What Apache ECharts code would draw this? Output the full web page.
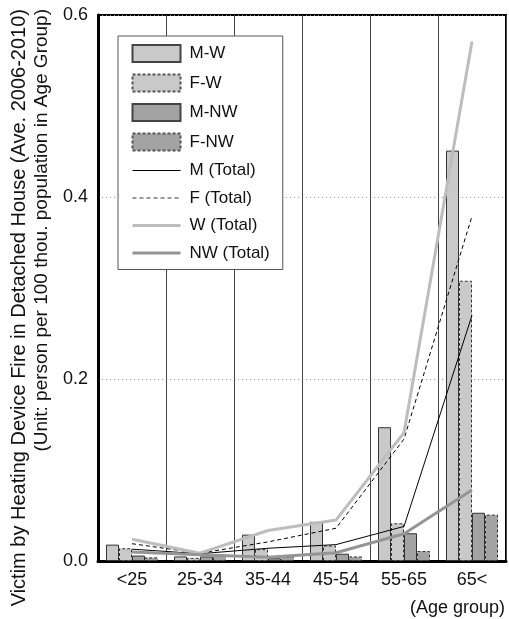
<!DOCTYPE html>
<html>
<head>
<meta charset="utf-8">
<script src="https://cdn.jsdelivr.net/npm/echarts@6/dist/echarts.min.js"></script>
<style>html,body{margin:0;padding:0;background:#fff;}#c{width:509px;height:619px;}</style>
</head>
<body>
<div id="c"></div>
<script>
var categories = ['<25', '25-34', '35-44', '45-54', '55-65', '65<'];
var mW = [0.018, 0.005, 0.029, 0.043, 0.147, 0.451];
var fW = [0.014, 0.0035, 0.013, 0.017, 0.0415, 0.308];
var mNW = [0.006, 0.005, 0.003, 0.008, 0.0305, 0.053];
var fNW = [0.004, 0.006, 0.005, 0.005, 0.011, 0.051];
var mTotal = [0.013, 0.008, 0.014, 0.018, 0.038, 0.27];
var fTotal = [0.019, 0.0085, 0.021, 0.036, 0.134, 0.379];
var wTotal = [0.024, 0.0086, 0.0335, 0.045, 0.141, 0.571];
var nwTotal = [0.010, 0.007, 0.004, 0.009, 0.030, 0.078];
var yTicks = [0, 0.2, 0.4, 0.6];

var FONT = 'Liberation Sans, Arial, sans-serif';
var DASH_BAR = [3, 2];
var DASH_LINE = [4, 3];
var chart = echarts.init(document.getElementById('c'));

function bar(name, data, color, dashed) {
  return {
    name: name, type: 'bar', data: data, barWidth: 13, barGap: '0%',
    itemStyle: { color: color, borderColor: '#333', borderWidth: 1, borderType: dashed ? DASH_BAR : 'solid' },
    emphasis: { disabled: true }, z: 2
  };
}
function line(name, data, color, width, dashed) {
  return {
    name: name, type: 'line', data: data, symbol: 'none', showSymbol: false,
    lineStyle: { color: color, width: width, type: dashed ? DASH_LINE : 'solid' },
    itemStyle: { color: color },
    emphasis: { disabled: true }, z: 5
  };
}

chart.setOption({
  animation: false,
  backgroundColor: '#fff',
  grid: { left: 98, right: 3, top: 15, bottom: 58, show: true, borderColor: '#000', borderWidth: 2, containLabel: false },
  legend: {
    orient: 'vertical', left: 118, top: 36,
    itemWidth: 48, itemHeight: 17, itemGap: 10.5,
    padding: [8, 13, 8, 13],
    backgroundColor: '#fff', borderColor: '#555', borderWidth: 1, borderRadius: 0,
    textStyle: { fontFamily: FONT, fontSize: 17, color: '#111', padding: [0, 0, 0, 4] },
    data: [
      { name: 'M-W', icon: 'rect', itemStyle: { borderType: 'solid', borderColor: '#444' } },
      { name: 'F-W', icon: 'rect', itemStyle: { borderType: DASH_BAR, borderColor: '#555' } },
      { name: 'M-NW', icon: 'rect', itemStyle: { borderType: 'solid', borderColor: '#444' } },
      { name: 'F-NW', icon: 'rect', itemStyle: { borderType: DASH_BAR, borderColor: '#555' } },
      { name: 'M (Total)', itemStyle: { opacity: 0 }, lineStyle: { width: 1, color: '#000', type: 'solid' } },
      { name: 'F (Total)', itemStyle: { opacity: 0 }, lineStyle: { width: 1, color: '#333', type: DASH_LINE } },
      { name: 'W (Total)', itemStyle: { opacity: 0 }, lineStyle: { width: 3, color: '#bdbdbd', type: 'solid' } },
      { name: 'NW (Total)', itemStyle: { opacity: 0 }, lineStyle: { width: 3, color: '#959595', type: 'solid' } }
    ]
  },
  xAxis: {
    type: 'category', data: categories, boundaryGap: true,
    axisLine: { show: true, lineStyle: { color: '#000', width: 3 } },
    axisTick: { show: false },
    axisLabel: { fontFamily: FONT, fontSize: 18, color: '#111', margin: 10 },
    splitLine: { show: true, lineStyle: { color: '#444', width: 1 } }
  },
  yAxis: {
    type: 'value', min: 0, max: 0.6, interval: 0.2,
    axisLine: { show: true, lineStyle: { color: '#000', width: 3 } },
    axisTick: { show: false },
    axisLabel: { fontFamily: FONT, fontSize: 18, color: '#111', margin: 10,
      formatter: function (v) { return yTicks.indexOf(Math.round(v * 10) / 10) >= 0 ? v.toFixed(1) : ''; } },
    splitLine: { show: true, lineStyle: { color: '#999', width: 1, type: [1, 3] } }
  },
  graphic: [
    { type: 'text', x: 19, y: 9, rotation: Math.PI / 2,
      style: { text: 'Victim by Heating Device Fire in Detached House (Ave. 2006-2010)', font: '20px ' + FONT, fill: '#111', textAlign: 'right', textVerticalAlign: 'middle' } },
    { type: 'text', x: 42, y: 9, rotation: Math.PI / 2,
      style: { text: '(Unit: person per 100 thou. population in Age Group)', font: '19px ' + FONT, fill: '#111', textAlign: 'right', textVerticalAlign: 'middle' } },
    { type: 'text', x: 505, y: 608,
      style: { text: '(Age group)', font: '18px ' + FONT, fill: '#111', textAlign: 'right', textVerticalAlign: 'middle' } }
  ],
  series: [
    bar('M-W', mW, '#c9c9c9', false),
    bar('F-W', fW, '#c9c9c9', true),
    bar('M-NW', mNW, '#a3a3a3', false),
    bar('F-NW', fNW, '#a3a3a3', true),
    line('M (Total)', mTotal, '#000', 1, false),
    line('F (Total)', fTotal, '#000', 1, true),
    line('W (Total)', wTotal, '#bdbdbd', 3, false),
    line('NW (Total)', nwTotal, '#959595', 3, false)
  ]
});
</script>
</body>
</html>
